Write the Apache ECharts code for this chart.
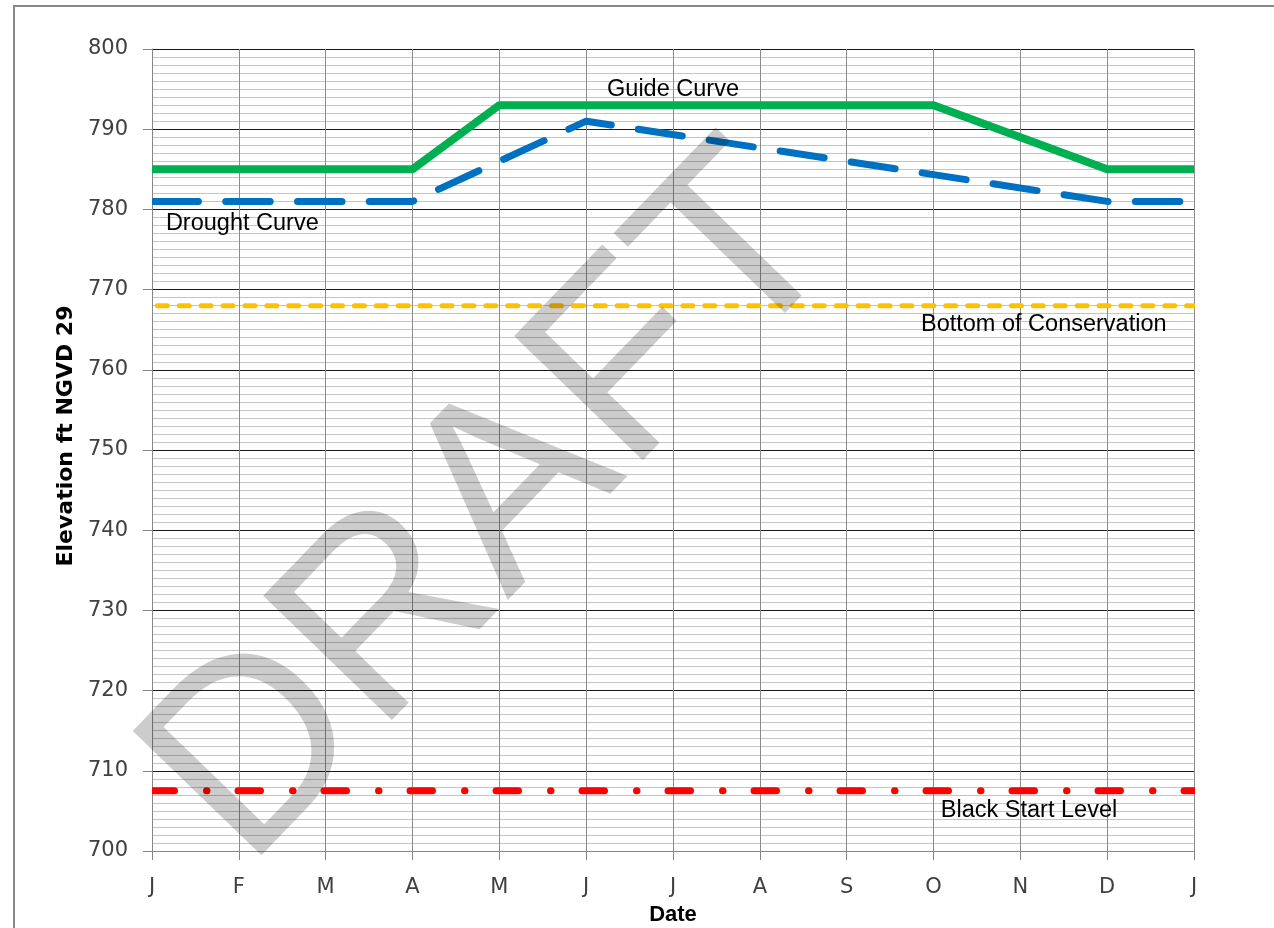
<!DOCTYPE html>
<html>
<head>
<meta charset="utf-8">
<script src="https://cdn.jsdelivr.net/npm/echarts@6/dist/echarts.min.js"></script>
<style>
html,body{margin:0;padding:0;background:#fff;}
#chart{width:1274px;height:928px;}
</style>
</head>
<body>
<div id="chart"></div>
<script>
// ---- data ----
const monthLabels = ['J','F','M','A','M','J','J','A','S','O','N','D','J'];
const guideX = [0, 3, 4, 9, 11, 12];
const guideY = [785, 785, 793, 793, 785, 785];
const droughtX = [0, 3, 5, 11, 12];
const droughtY = [781, 781, 791, 781, 781];
const conservationX = [0, 12];
const conservationY = [768, 768];
const blackStartX = [0, 12];
const blackStartY = [707.5, 707.5];
const yMin = 700, yMax = 800, yStep = 10;
const annotations = [
  {text: 'Guide Curve', x: 6, y: 795},
  {text: 'Drought Curve', x: 1.04, y: 778.3},
  {text: 'Bottom of Conservation', x: 10.27, y: 765.7},
  {text: 'Black Start Level', x: 10.1, y: 705.0}
];
const pairs = (xs, ys) => xs.map((x, i) => [x, ys[i]]);

const chart = echarts.init(document.getElementById('chart'), null, {renderer: 'canvas'});
const labelFont = '"DejaVu Sans", sans-serif';
const option = {
  backgroundColor: '#ffffff',
  animation: false,
  grid: {left: 152, right: 80, top: 49, bottom: 77, containLabel: false, outerBoundsMode: 'none'},
  xAxis: {
    type: 'value', min: 0, max: 12, interval: 1,
    name: 'Date', nameLocation: 'middle', nameGap: 53,
    nameTextStyle: {fontFamily: '"Liberation Sans", Arial, sans-serif', fontWeight: 'bold', fontSize: 22, color: '#000'},
    axisLine: {show: true, lineStyle: {color: '#868686', width: 1}},
    axisTick: {show: true, inside: false, length: 9, lineStyle: {color: '#868686'}},
    axisLabel: {margin: 26, fontFamily: labelFont, fontSize: 21, color: '#404040',
      formatter: v => monthLabels[Math.round(v)] || ''},
    splitLine: {show: true, lineStyle: {color: '#8c8c8c', width: 1}}
  },
  yAxis: {
    type: 'value', min: yMin, max: yMax, interval: yStep,
    name: 'Elevation ft NGVD 29', nameLocation: 'middle', nameGap: 72,
    nameTextStyle: {fontFamily: '"DejaVu Sans", sans-serif', fontWeight: 'bold', fontSize: 22, color: '#000',
      padding: [0, 0, 0, 28]},
    axisLine: {show: true, lineStyle: {color: '#868686', width: 1}},
    axisTick: {show: true, inside: false, length: 9, lineStyle: {color: '#868686'}},
    axisLabel: {margin: 24, fontFamily: labelFont, fontSize: 21, color: '#404040'},
    splitLine: {show: true, lineStyle: {color: '#1a1a1a', width: 1}},
    minorTick: {show: false, splitNumber: 10},
    minorSplitLine: {show: true, lineStyle: {color: '#c4c4c4', width: 1}}
  },
  series: [
    {type: 'line', name: 'Bottom of Conservation', data: pairs(conservationX, conservationY), symbol: 'none',
      lineStyle: {color: '#FFC000', width: 5, type: [10, 11.9], dashOffset: 16.6, cap: 'round'}, z: 3},
    {type: 'line', name: 'Black Start Level', data: pairs(blackStartX, blackStartY), symbol: 'none',
      lineStyle: {color: '#FF0000', width: 7, type: [22.5, 32, 0.5, 31], cap: 'round'}, z: 3},
    {type: 'line', name: 'Drought Curve', data: pairs(droughtX, droughtY), symbol: 'none',
      lineStyle: {color: '#0070C0', width: 7, type: [44.5, 27.3], dashOffset: 69.9, cap: 'round', join: 'round'}, z: 4},
    {type: 'line', name: 'Guide Curve', data: pairs(guideX, guideY), symbol: 'none',
      lineStyle: {color: '#00B050', width: 8, cap: 'butt', join: 'round'}, z: 5}
  ]
};
chart.setOption(option);

const graphics = [];
// white masks hiding line caps that spill past the plot edges
[droughtY[0], conservationY[0], blackStartY[0]].forEach(v => {
  const p = chart.convertToPixel({gridIndex: 0}, [0, v]);
  graphics.push({type: 'rect', silent: true, z: 100,
    shape: {x: p[0] - 14, y: p[1] - 6, width: 14, height: 12}, style: {fill: '#fff'}});
});
const pr = chart.convertToPixel({gridIndex: 0}, [12, yMax]);
const pb = chart.convertToPixel({gridIndex: 0}, [12, yMin]);
graphics.push({type: 'rect', silent: true, z: 100,
  shape: {x: pr[0] + 1, y: pr[1] - 10, width: 20, height: pb[1] - pr[1] + 20}, style: {fill: '#fff'}});
graphics.push({type: 'rect', silent: true, z: 200,
  shape: {x: 14, y: 6, width: 1270, height: 930},
  style: {fill: 'none', stroke: '#898989', lineWidth: 2}});
annotations.forEach(a => {
  const p = chart.convertToPixel({gridIndex: 0}, [a.x, a.y]);
  graphics.push({type: 'text', x: p[0], y: p[1], z: 150, silent: true,
    style: {text: a.text, font: '23.5px "Liberation Sans", Arial, sans-serif', fill: '#000',
      align: 'center', verticalAlign: 'middle'}});
});
graphics.push({type: 'text', x: 496, y: 509, rotation: 46 * Math.PI / 180, z: 180, silent: true,
  style: {text: 'DRAFT', font: '260px "Liberation Sans", Arial, sans-serif', fill: 'rgba(0,0,0,0.2)',
    align: 'center', verticalAlign: 'middle'}});
chart.setOption({graphic: graphics});
</script>
</body>
</html>
